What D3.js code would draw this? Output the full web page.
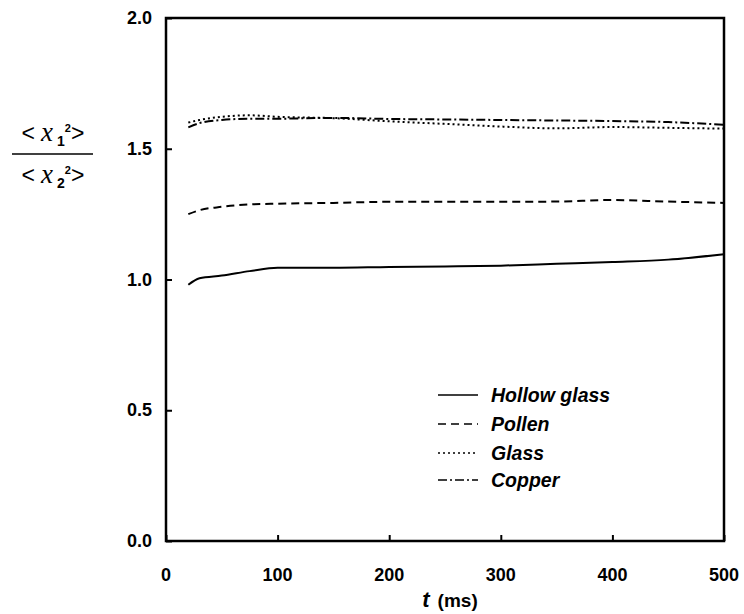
<!DOCTYPE html>
<html>
<head>
<meta charset="utf-8">
<script src="https://cdn.jsdelivr.net/npm/d3@7"></script>
<style>
  body { margin: 0; background: #fff; }
  svg { display: block; font-family: "Liberation Sans", Arial, sans-serif; }
</style>
</head>
<body>
<div id="chart"></div>
<script>
// Data
const times = [20, 30, 50, 75, 100, 150, 200, 250, 300, 350, 400, 450, 500];
const hollowGlass = [0.98, 1.005, 1.015, 1.032, 1.045, 1.045, 1.048, 1.05, 1.053, 1.06, 1.067, 1.076, 1.097];
const pollen = [1.25, 1.265, 1.278, 1.287, 1.29, 1.293, 1.297, 1.297, 1.297, 1.298, 1.304, 1.298, 1.293];
const glass = [1.60, 1.61, 1.622, 1.628, 1.622, 1.617, 1.605, 1.595, 1.585, 1.578, 1.583, 1.58, 1.577];
const copper = [1.582, 1.598, 1.61, 1.615, 1.615, 1.618, 1.614, 1.612, 1.61, 1.608, 1.606, 1.602, 1.592];

const seriesNames = ["Hollow glass", "Pollen", "Glass", "Copper"];
const seriesValues = [hollowGlass, pollen, glass, copper];
const dashes = [null, "8,5", "2,3", "9,3,2,3"];

const xTicks = [0, 100, 200, 300, 400, 500];
const yTicks = [0.0, 0.5, 1.0, 1.5, 2.0];

const width = 744, height = 614;
const margin = { left: 166, right: 20, top: 18, bottom: 73 };

const svg = d3.select("#chart").append("svg")
    .attr("width", width)
    .attr("height", height);

const x = d3.scaleLinear().domain([0, 500]).range([margin.left, width - margin.right]);
const y = d3.scaleLinear().domain([0, 2]).range([height - margin.bottom, margin.top]);

// ticks pointing inward
svg.append("g")
    .attr("transform", `translate(0,${y(0)})`)
    .call(d3.axisTop(x).tickValues(xTicks).tickSize(6).tickFormat(""))
    .call(g => g.select(".domain").remove())
    .call(g => g.selectAll("line").attr("stroke", "#000").attr("stroke-width", 2));

svg.append("g")
    .attr("transform", `translate(${x(0)},0)`)
    .call(d3.axisRight(y).tickValues(yTicks).tickSize(6).tickFormat(""))
    .call(g => g.select(".domain").remove())
    .call(g => g.selectAll("line").attr("stroke", "#000").attr("stroke-width", 2));

// tick labels
svg.append("g").selectAll("text")
    .data(xTicks)
    .join("text")
    .attr("x", d => x(d))
    .attr("y", y(0) + 40)
    .attr("text-anchor", "middle")
    .attr("font-size", 18)
    .attr("font-weight", "bold")
    .text(d => d);

svg.append("g").selectAll("text")
    .data(yTicks)
    .join("text")
    .attr("x", x(0) - 14)
    .attr("y", d => y(d) + 6)
    .attr("text-anchor", "end")
    .attr("font-size", 18)
    .attr("font-weight", "bold")
    .text(d => d.toFixed(1));

// frame
svg.append("rect")
    .attr("x", x(0))
    .attr("y", y(2))
    .attr("width", x(500) - x(0))
    .attr("height", y(0) - y(2))
    .attr("fill", "none")
    .attr("stroke", "#000")
    .attr("stroke-width", 2.5);

// series lines
const line = d3.line()
    .x((d, i) => x(times[i]))
    .y(d => y(d))
    .curve(d3.curveMonotoneX);

seriesValues.forEach((vals, i) => {
    svg.append("path")
        .datum(vals)
        .attr("d", line)
        .attr("fill", "none")
        .attr("stroke", "#000")
        .attr("stroke-width", 2)
        .attr("stroke-dasharray", dashes[i]);
});

// legend
const legend = svg.append("g");
const legendY = [395, 424, 453, 480];
seriesNames.forEach((name, i) => {
    legend.append("line")
        .attr("x1", 438).attr("x2", 478)
        .attr("y1", legendY[i]).attr("y2", legendY[i])
        .attr("stroke", "#000")
        .attr("stroke-width", 1.6)
        .attr("stroke-dasharray", dashes[i]);
    legend.append("text")
        .attr("x", 491)
        .attr("y", legendY[i] + 7)
        .attr("font-size", 19.5)
        .attr("font-weight", "bold")
        .attr("font-style", "italic")
        .text(name);
});

// x axis title
const xt = svg.append("text")
    .attr("x", 450)
    .attr("y", 607)
    .attr("text-anchor", "middle")
    .attr("font-size", 19)
    .attr("font-weight", "bold");
xt.append("tspan").attr("font-size", 22).attr("font-style", "italic").text("t");
xt.append("tspan").attr("dx", 8).text("(ms)");

// y axis title: <x1^2> / <x2^2>
function ratioPart(yPos, sub) {
    const t = svg.append("text")
        .attr("x", 53)
        .attr("y", yPos)
        .attr("text-anchor", "middle")
        .attr("font-size", 23);
    t.append("tspan").text("<");
    t.append("tspan").attr("font-family", "Liberation Serif, Times New Roman, serif")
        .attr("font-style", "italic").attr("font-size", 27).attr("dx", 6).text("x");
    t.append("tspan").attr("font-size", 14).attr("font-weight", "bold").attr("dx", 4).attr("dy", 5).text(sub);
    t.append("tspan").attr("font-size", 11).attr("font-weight", "bold").attr("dy", -14).text("2");
    t.append("tspan").attr("dy", 9).text(">");
}
ratioPart(141, "1");
ratioPart(183, "2");
svg.append("line")
    .attr("x1", 12).attr("x2", 93)
    .attr("y1", 154).attr("y2", 154)
    .attr("stroke", "#000")
    .attr("stroke-width", 1.5);
</script>
</body>
</html>
